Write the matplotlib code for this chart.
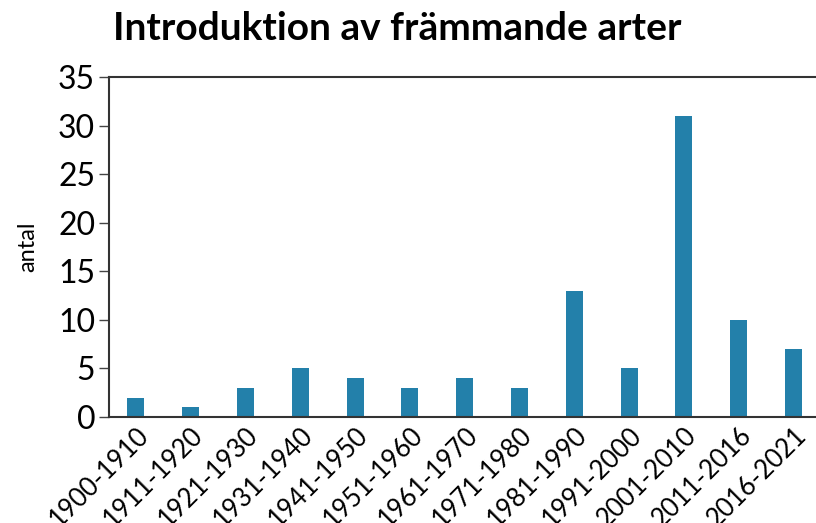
import numpy as np
import matplotlib.pyplot as plt

periods = ['1900-1910', '1911-1920', '1921-1930', '1931-1940', '1941-1950',
           '1951-1960', '1961-1970', '1971-1980', '1981-1990', '1991-2000',
           '2001-2010', '2011-2016', '2016-2021']
antal = [2, 1, 3, 5, 4, 3, 4, 3, 13, 5, 31, 10, 7]

plt.rcParams['font.family'] = ['Lato', 'DejaVu Sans']

fig = plt.figure(figsize=(8.16, 5.23), dpi=100)
ax = fig.add_axes([0.1336, 0.2027, 0.8664, 0.6501])

x = np.arange(len(periods))
ax.bar(x, antal, width=0.31, color='#2380aa')

ax.set_xlim(-0.49, 12.41)
ax.set_ylim(0, 35)
ax.set_yticks(range(0, 36, 5))
ax.tick_params(axis='y', labelsize=23, length=7, width=1, color='#444444', pad=3)
ax.tick_params(axis='x', length=0, labelsize=18.5, pad=4)
ax.set_xticks(x)
ax.set_xticklabels(periods, rotation=45, ha='right', rotation_mode='anchor')

for side in ['left', 'bottom', 'top']:
    ax.spines[side].set_color('#333333')
    ax.spines[side].set_linewidth(1.5)
ax.spines['right'].set_visible(False)

ax.set_ylabel('antal', fontsize=17, labelpad=14)
fig.text(0.139, 0.945, 'Introduktion av främmande arter', fontsize=28,
         fontweight='bold', ha='left', va='center')

fig.savefig('out.png', dpi=100)
